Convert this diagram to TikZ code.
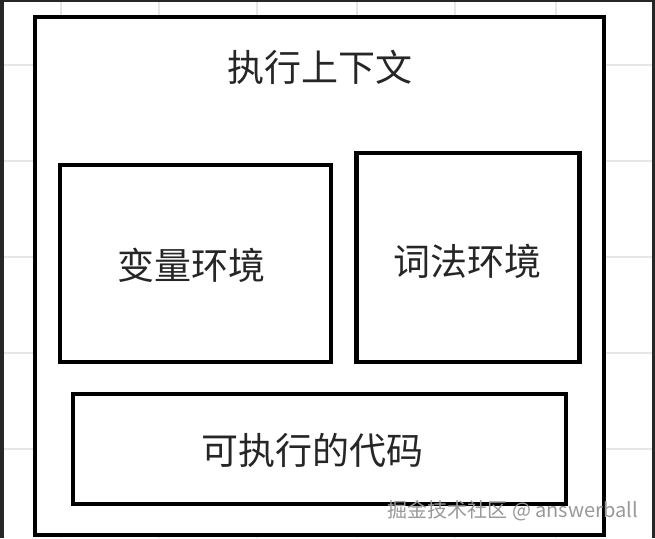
\documentclass[tikz,border=0pt]{standalone}
\usepackage{fontspec}
\newfontfamily\cjk{Noto Sans CJK SC}
\usepackage{xcolor}
\definecolor{gridgray}{HTML}{E6E6E6}
\definecolor{framegray}{HTML}{262626}
\usetikzlibrary{positioning}

\begin{document}
\begin{tikzpicture}[x=1pt, y=-1pt,
	box/.style={draw=black, line width=4.8pt, fill=white, rectangle, inner sep=0pt},
	label/.style={font=\cjk\fontsize{37}{42}\selectfont, text=black!85}]
	\useasboundingbox (0,0) rectangle (655,538);
	% spreadsheet grid and screenshot frame
	\fill[white] (0,0) rectangle (655,538);
	\foreach \x in {61,159,257,357,455,556}
		\draw[gridgray, line width=1.2pt] (\x,0) -- (\x,538);
	\foreach \y in {65,161,257,353,449}
		\draw[gridgray, line width=1.2pt] (0,\y) -- (655,\y);
	\fill[framegray] (0,0) rectangle (3.5,538);
	\fill[framegray] (0,0) rectangle (655,1.5);
	\fill[framegray] (651.5,0) rectangle (655,538);
	% boxes
	\node[box, minimum width=569pt, minimum height=518pt] (ctx) at (319.5,276) {};
	\node[label] (title) at (320,67) {执行上下文};
	\node[box, minimum width=271pt, minimum height=197pt] (varenv) at (195.5,263.5) {};
	\node[label] (varlbl) at (191,265) {变量环境};
	\node[box, minimum width=223.5pt, minimum height=209pt] (lexenv) at (468,257.5) {};
	\node[label] (lexlbl) at (467,261) {词法环境};
	\node[box, minimum width=493pt, minimum height=110pt] (code) at (319.5,449) {};
	\node[label] (codelbl) at (312,450) {可执行的代码};
	% watermark
	\node[anchor=east, font=\cjk\fontsize{20}{23}\selectfont, text=black!40, inner sep=0pt] (mark) at (638,511) {掘金技术社区 @ answerball};
\end{tikzpicture}
\end{document}
